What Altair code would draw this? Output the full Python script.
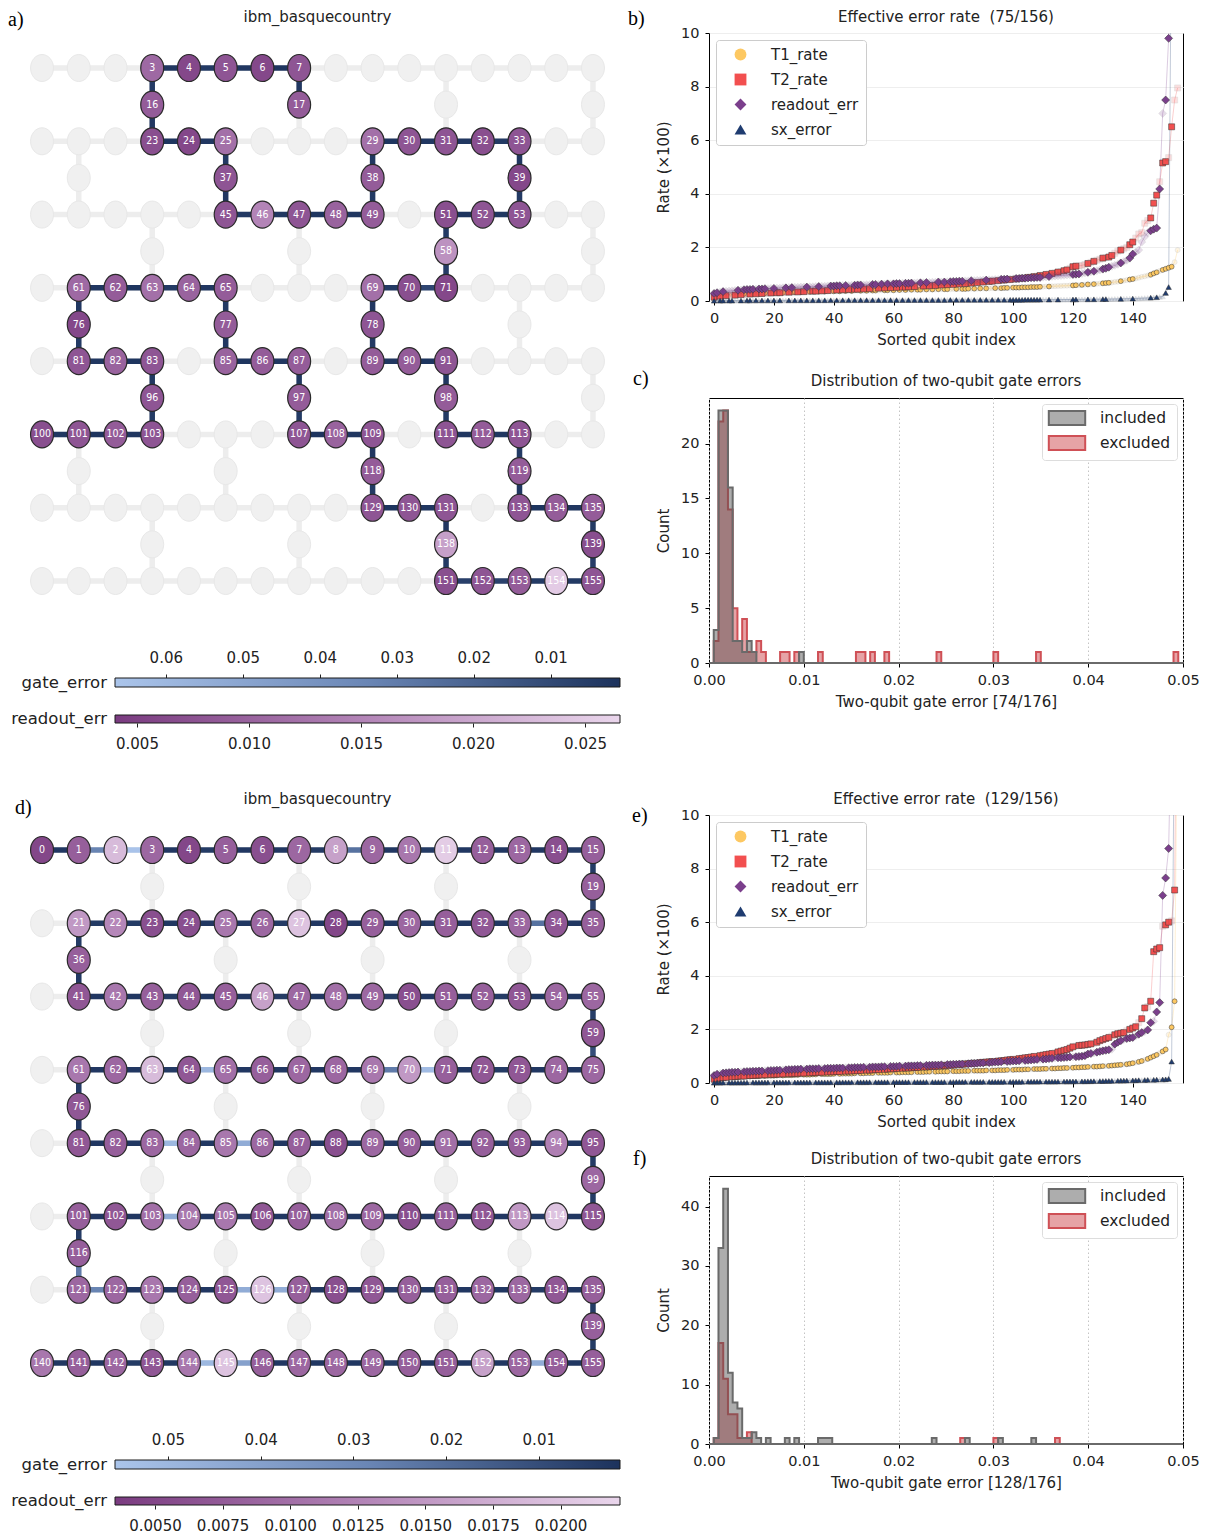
import altair as alt
import pandas as pd

FONT = "DejaVu Sans"
NODE_FONT = "DejaVu Sans Condensed"
SERIF = "Liberation Serif"
INK = "#222222"

# ---------------- device topology (heavy-hex, 156 qubits) ----------------
N_MAIN_ROWS = 8
ROW_LEN = 16
CONNECTOR_COLS = [[3, 7, 11, 15], [1, 5, 9, 13]]

pos = {}
edges = []
for k in range(N_MAIN_ROWS):
    base = 20 * k
    for c in range(ROW_LEN):
        pos[base + c] = (c, 2 * k)
        if c < ROW_LEN - 1:
            edges.append((base + c, base + c + 1))
    if k < N_MAIN_ROWS - 1:
        for j, c in enumerate(CONNECTOR_COLS[k % 2]):
            q = base + 16 + j
            pos[q] = (c, 2 * k + 1)
            edges.append((base + c, q))
            edges.append((q, base + 20 + c))

# ---------------- panel a: selected chain ----------------
PATH_A = [17, 7, 6, 5, 4, 3, 16, 23, 24, 25, 37, 45, 46, 47, 48, 49, 38, 29, 30, 31, 32, 33,
          39, 53, 52, 51, 58, 71, 70, 69, 78, 89, 90, 91, 98, 111, 112, 113, 119, 133, 134, 135,
          139, 155, 154, 153, 152, 151, 138, 131, 130, 129, 118, 109, 108, 107, 97, 87, 86, 85,
          77, 65, 64, 63, 62, 61, 76, 81, 82, 83, 96, 103, 102, 101, 100]
READ_A = {3: 0.011, 4: 0.006, 5: 0.008, 6: 0.006, 7: 0.008, 16: 0.009, 17: 0.009, 23: 0.007,
          24: 0.006, 25: 0.012, 29: 0.012, 30: 0.008, 31: 0.008, 32: 0.007, 33: 0.008, 37: 0.008,
          38: 0.009, 39: 0.006, 45: 0.008, 46: 0.015, 47: 0.008, 48: 0.010, 49: 0.009, 51: 0.007,
          52: 0.008, 53: 0.008, 58: 0.017, 61: 0.011, 62: 0.009, 63: 0.012, 64: 0.010, 65: 0.009,
          69: 0.012, 70: 0.007, 71: 0.006, 76: 0.006, 77: 0.009, 78: 0.008, 81: 0.008, 82: 0.010,
          83: 0.008, 85: 0.010, 86: 0.009, 87: 0.009, 89: 0.009, 90: 0.009, 91: 0.008, 96: 0.008,
          97: 0.009, 98: 0.009, 100: 0.007, 101: 0.008, 102: 0.009, 103: 0.008, 107: 0.008,
          108: 0.010, 109: 0.008, 111: 0.008, 112: 0.009, 113: 0.008, 118: 0.009, 119: 0.009,
          129: 0.008, 130: 0.008, 131: 0.008, 133: 0.008, 134: 0.009, 135: 0.009, 138: 0.019,
          139: 0.007, 151: 0.007, 152: 0.008, 153: 0.009, 154: 0.025, 155: 0.008}
GATE_A = [0.003, 0.002, 0.003, 0.004, 0.003, 0.004, 0.003, 0.002, 0.003, 0.004,
          0.003, 0.004, 0.003, 0.002, 0.003, 0.004, 0.003, 0.002, 0.003, 0.003,
          0.004, 0.003, 0.004, 0.003, 0.002, 0.004, 0.005, 0.009, 0.004, 0.003,
          0.004, 0.003, 0.002, 0.003, 0.004, 0.003, 0.003, 0.004, 0.003, 0.002,
          0.003, 0.004, 0.005, 0.004, 0.004, 0.007, 0.006, 0.004, 0.003, 0.003,
          0.002, 0.004, 0.003, 0.003, 0.002, 0.004, 0.003, 0.003, 0.002, 0.003,
          0.004, 0.003, 0.004, 0.002, 0.003, 0.003, 0.004, 0.003, 0.002, 0.003,
          0.004, 0.003, 0.002, 0.003]
READ_DOM_A = [0.00402, 0.02656]
GATE_DOM_A = [0.0010, 0.0666]
GATE_TICKS_A = [0.06, 0.05, 0.04, 0.03, 0.02, 0.01]
READ_TICKS_A = [0.005, 0.010, 0.015, 0.020, 0.025]

# ---------------- panel d: snake chain ----------------
PATH_D = (list(range(0, 16)) + [19] + list(range(35, 20, -1)) + [36] + list(range(41, 56)) + [59]
          + list(range(75, 60, -1)) + [76] + list(range(81, 96)) + [99] + list(range(115, 100, -1))
          + [116] + list(range(121, 136)) + [139] + list(range(155, 139, -1)))
READ_D = {0: 0.005, 1: 0.008, 2: 0.019, 3: 0.009, 4: 0.005, 5: 0.008, 6: 0.006, 7: 0.009, 8: 0.016,
          9: 0.009, 10: 0.011, 11: 0.021, 12: 0.008, 13: 0.009, 14: 0.006, 15: 0.008, 19: 0.008,
          21: 0.015, 22: 0.013, 23: 0.006, 24: 0.006, 25: 0.011, 26: 0.009, 27: 0.020, 28: 0.005,
          29: 0.008, 30: 0.009, 31: 0.008, 32: 0.007, 33: 0.009, 34: 0.007, 35: 0.008, 36: 0.008,
          41: 0.007, 42: 0.011, 43: 0.008, 44: 0.007, 45: 0.008, 46: 0.016, 47: 0.009, 48: 0.010,
          49: 0.009, 50: 0.006, 51: 0.008, 52: 0.008, 53: 0.007, 54: 0.009, 55: 0.009, 59: 0.007,
          61: 0.011, 62: 0.009, 63: 0.019, 64: 0.007, 65: 0.010, 66: 0.008, 67: 0.009, 68: 0.009,
          69: 0.011, 70: 0.015, 71: 0.008, 72: 0.007, 73: 0.007, 74: 0.009, 75: 0.009, 76: 0.007,
          81: 0.007, 82: 0.008, 83: 0.009, 84: 0.009, 85: 0.011, 86: 0.009, 87: 0.008, 88: 0.006,
          89: 0.009, 90: 0.008, 91: 0.010, 92: 0.008, 93: 0.008, 94: 0.012, 95: 0.007, 99: 0.009,
          101: 0.008, 102: 0.007, 103: 0.010, 104: 0.011, 105: 0.011, 106: 0.007, 107: 0.008,
          108: 0.010, 109: 0.009, 110: 0.006, 111: 0.008, 112: 0.007, 113: 0.015, 114: 0.020,
          115: 0.007, 116: 0.008, 121: 0.009, 122: 0.009, 123: 0.011, 124: 0.008, 125: 0.007,
          126: 0.020, 127: 0.008, 128: 0.006, 129: 0.007, 130: 0.008, 131: 0.008, 132: 0.009,
          133: 0.009, 134: 0.007, 135: 0.008, 139: 0.008, 140: 0.011, 141: 0.008, 142: 0.009,
          143: 0.007, 144: 0.011, 145: 0.020, 146: 0.008, 147: 0.009, 148: 0.009, 149: 0.009,
          150: 0.008, 151: 0.008, 152: 0.016, 153: 0.009, 154: 0.008, 155: 0.008}
GATE_D = [0.003, 0.028, 0.055, 0.003, 0.004, 0.003, 0.003, 0.004, 0.022, 0.003, 0.004, 0.003, 0.003, 0.003, 0.004,
          0.004, 0.006,
          0.003, 0.022, 0.003, 0.003, 0.004, 0.003, 0.003, 0.003, 0.004, 0.003, 0.003, 0.003, 0.004, 0.004,
          0.004, 0.003,
          0.003, 0.003, 0.004, 0.003, 0.003, 0.004, 0.003, 0.003, 0.004, 0.003, 0.003, 0.004, 0.003, 0.003,
          0.005, 0.010,
          0.003, 0.003, 0.004, 0.003, 0.052, 0.025, 0.003, 0.003, 0.003, 0.003, 0.050, 0.004, 0.003, 0.003,
          0.004, 0.003,
          0.003, 0.003, 0.050, 0.003, 0.045, 0.003, 0.003, 0.004, 0.003, 0.003, 0.003, 0.004, 0.003, 0.003,
          0.004, 0.004,
          0.003, 0.004, 0.003, 0.003, 0.003, 0.004, 0.003, 0.003, 0.003, 0.004, 0.003, 0.045, 0.003, 0.003,
          0.004, 0.025,
          0.028, 0.003, 0.003, 0.003, 0.045, 0.045, 0.003, 0.003, 0.004, 0.003, 0.003, 0.003, 0.004, 0.003,
          0.004, 0.004,
          0.003, 0.045, 0.003, 0.003, 0.003, 0.004, 0.003, 0.003, 0.003, 0.040, 0.050, 0.003, 0.004, 0.003, 0.003]
READ_DOM_D = [0.00352, 0.0222]
GATE_DOM_D = [0.00124, 0.0557]
GATE_TICKS_D = [0.05, 0.04, 0.03, 0.02, 0.01]
READ_TICKS_D = [0.0050, 0.0075, 0.0100, 0.0125, 0.0150, 0.0175, 0.0200]

# ---------------- panel b: sorted rates (x100) ----------------
B_T1 = [0.18, 0.20, 0.21, 0.22, 0.23, 0.24, 0.24, 0.25, 0.25, 0.26,
        0.26, 0.27, 0.27, 0.28, 0.28, 0.28, 0.29, 0.29, 0.30, 0.30,
        0.30, 0.31, 0.31, 0.31, 0.32, 0.32, 0.32, 0.33, 0.33, 0.33,
        0.33, 0.34, 0.34, 0.34, 0.34, 0.35, 0.35, 0.35, 0.35, 0.36,
        0.36, 0.36, 0.36, 0.37, 0.37, 0.37, 0.37, 0.38, 0.38, 0.38,
        0.38, 0.38, 0.39, 0.39, 0.39, 0.39, 0.40, 0.40, 0.40, 0.40,
        0.40, 0.41, 0.41, 0.41, 0.41, 0.42, 0.42, 0.42, 0.42, 0.42,
        0.43, 0.43, 0.43, 0.43, 0.43, 0.44, 0.44, 0.44, 0.44, 0.44,
        0.45, 0.45, 0.45, 0.45, 0.45, 0.46, 0.46, 0.46, 0.46, 0.47,
        0.47, 0.47, 0.47, 0.48, 0.48, 0.48, 0.48, 0.49, 0.49, 0.49,
        0.50, 0.50, 0.50, 0.51, 0.51, 0.51, 0.52, 0.52, 0.52, 0.53,
        0.53, 0.54, 0.54, 0.55, 0.55, 0.56, 0.56, 0.57, 0.57, 0.58,
        0.58, 0.59, 0.59, 0.60, 0.61, 0.62, 0.62, 0.63, 0.64, 0.65,
        0.66, 0.67, 0.68, 0.69, 0.71, 0.72, 0.74, 0.76, 0.78, 0.80,
        0.82, 0.84, 0.87, 0.90, 0.92, 0.95, 0.98, 1.03, 1.07, 1.12,
        1.16, 1.20, 1.24, 1.28, 1.45, 1.90]
B_T2 = [0.14, 0.16, 0.18, 0.19, 0.20, 0.21, 0.22, 0.22, 0.23, 0.24,
        0.24, 0.25, 0.26, 0.26, 0.27, 0.27, 0.28, 0.29, 0.29, 0.30,
        0.30, 0.31, 0.31, 0.32, 0.32, 0.33, 0.33, 0.34, 0.34, 0.35,
        0.35, 0.36, 0.36, 0.37, 0.37, 0.38, 0.38, 0.39, 0.39, 0.40,
        0.40, 0.41, 0.41, 0.42, 0.42, 0.43, 0.43, 0.44, 0.44, 0.45,
        0.45, 0.46, 0.46, 0.47, 0.47, 0.48, 0.48, 0.49, 0.49, 0.50,
        0.50, 0.51, 0.51, 0.52, 0.52, 0.53, 0.53, 0.54, 0.55, 0.55,
        0.56, 0.56, 0.57, 0.58, 0.58, 0.59, 0.60, 0.60, 0.61, 0.62,
        0.62, 0.63, 0.64, 0.64, 0.65, 0.66, 0.67, 0.68, 0.69, 0.70,
        0.71, 0.72, 0.73, 0.74, 0.75, 0.76, 0.77, 0.78, 0.79, 0.80,
        0.81, 0.82, 0.84, 0.85, 0.86, 0.88, 0.89, 0.91, 0.93, 0.95,
        0.97, 0.99, 1.01, 1.03, 1.05, 1.08, 1.10, 1.13, 1.16, 1.22,
        1.28, 1.30, 1.31, 1.33, 1.36, 1.40, 1.44, 1.48, 1.52, 1.56,
        1.60, 1.62, 1.64, 1.70, 1.78, 1.86, 1.90, 1.95, 2.00, 2.10,
        2.20, 2.35, 2.50, 2.55, 2.90, 3.00, 3.10, 3.65, 3.95, 4.45,
        5.15, 5.20, 5.35, 6.50, 7.50, 7.95]
B_RO = [0.28, 0.31, 0.33, 0.35, 0.36, 0.37, 0.38, 0.39, 0.40, 0.41,
        0.42, 0.43, 0.43, 0.44, 0.44, 0.45, 0.45, 0.46, 0.46, 0.47,
        0.47, 0.48, 0.48, 0.49, 0.49, 0.50, 0.50, 0.51, 0.51, 0.52,
        0.52, 0.52, 0.53, 0.53, 0.54, 0.54, 0.55, 0.55, 0.56, 0.56,
        0.56, 0.57, 0.57, 0.58, 0.58, 0.58, 0.59, 0.59, 0.60, 0.60,
        0.60, 0.61, 0.61, 0.62, 0.62, 0.62, 0.63, 0.63, 0.64, 0.64,
        0.64, 0.65, 0.65, 0.66, 0.66, 0.66, 0.67, 0.67, 0.68, 0.68,
        0.68, 0.69, 0.69, 0.70, 0.70, 0.71, 0.71, 0.71, 0.72, 0.72,
        0.73, 0.73, 0.74, 0.74, 0.75, 0.75, 0.76, 0.76, 0.77, 0.77,
        0.78, 0.78, 0.79, 0.79, 0.80, 0.80, 0.81, 0.81, 0.82, 0.82,
        0.83, 0.84, 0.84, 0.85, 0.85, 0.86, 0.87, 0.87, 0.88, 0.88,
        0.89, 0.90, 0.91, 0.92, 0.93, 0.94, 0.95, 0.96, 0.97, 0.98,
        0.99, 1.00, 1.01, 1.03, 1.05, 1.07, 1.09, 1.11, 1.13, 1.16,
        1.19, 1.22, 1.26, 1.30, 1.33, 1.37, 1.42, 1.47, 1.52, 1.60,
        1.75, 1.82, 1.90, 2.20, 2.40, 2.55, 2.62, 2.68, 2.72, 4.18,
        7.00, 7.50, 9.80, 14.0, 20.0, 30.0]
B_SX = [0.010, 0.012, 0.013, 0.014, 0.015, 0.016, 0.016, 0.017, 0.017, 0.018,
        0.018, 0.019, 0.019, 0.020, 0.020, 0.020, 0.021, 0.021, 0.021, 0.022,
        0.022, 0.022, 0.023, 0.023, 0.023, 0.024, 0.024, 0.024, 0.025, 0.025,
        0.025, 0.025, 0.026, 0.026, 0.026, 0.027, 0.027, 0.027, 0.027, 0.028,
        0.028, 0.028, 0.028, 0.029, 0.029, 0.029, 0.029, 0.030, 0.030, 0.030,
        0.030, 0.031, 0.031, 0.031, 0.031, 0.032, 0.032, 0.032, 0.032, 0.033,
        0.033, 0.033, 0.033, 0.034, 0.034, 0.034, 0.034, 0.035, 0.035, 0.035,
        0.035, 0.036, 0.036, 0.036, 0.036, 0.037, 0.037, 0.037, 0.038, 0.038,
        0.038, 0.038, 0.039, 0.039, 0.039, 0.040, 0.040, 0.040, 0.041, 0.041,
        0.041, 0.042, 0.042, 0.042, 0.043, 0.043, 0.043, 0.044, 0.044, 0.045,
        0.045, 0.045, 0.046, 0.046, 0.047, 0.047, 0.048, 0.048, 0.049, 0.049,
        0.050, 0.050, 0.051, 0.052, 0.052, 0.053, 0.054, 0.054, 0.055, 0.056,
        0.057, 0.058, 0.059, 0.060, 0.061, 0.062, 0.063, 0.064, 0.066, 0.067,
        0.069, 0.070, 0.072, 0.074, 0.076, 0.078, 0.080, 0.083, 0.086, 0.089,
        0.092, 0.096, 0.100, 0.105, 0.110, 0.116, 0.123, 0.131, 0.140, 0.152,
        0.170, 0.300, 0.520, 15.0, 25.0, 40.0]
B_INC_T1 = [3, 8, 10, 13, 15, 17, 20, 23, 26, 27, 29, 32, 35, 37, 40, 42, 44, 46, 49, 51, 53, 54,
            57, 58, 60, 62, 64, 66, 68, 69, 71, 73, 75, 77, 78, 81, 83, 84, 85, 87, 89, 91, 94, 96,
            97, 98, 100, 101, 102, 103, 104, 105, 106, 107, 108, 109, 112, 120, 121, 123, 125, 127,
            130, 131, 132, 136, 139, 140, 146, 147, 148, 150, 151, 152, 153]
B_INC_T2 = [0, 2, 4, 7, 9, 12, 14, 16, 19, 21, 22, 25, 28, 30, 33, 34, 36, 38, 41, 43, 45, 47, 48,
            50, 52, 55, 57, 59, 61, 63, 64, 65, 67, 70, 72, 74, 76, 78, 80, 82, 84, 86, 88, 90, 92,
            93, 95, 97, 99, 101, 103, 105, 107, 109, 111, 113, 115, 117, 118, 120, 121, 125, 127,
            130, 132, 133, 136, 139, 140, 146, 147, 148, 150, 151, 153]
B_INC_RO = [0, 1, 3, 8, 10, 11, 12, 13, 15, 16, 17, 20, 24, 26, 31, 35, 39, 40, 41, 42, 44, 47, 48,
            49, 53, 54, 56, 58, 60, 61, 62, 64, 65, 66, 69, 71, 75, 77, 79, 80, 81, 82, 83, 86, 91,
            96, 97, 98, 101, 102, 103, 104, 105, 106, 107, 108, 109, 112, 120, 121, 122, 125, 127,
            130, 131, 132, 136, 139, 140, 146, 147, 148, 149, 151, 152]
B_INC_SX = [0, 2, 3, 5, 6, 9, 11, 12, 14, 16, 18, 20, 22, 25, 27, 29, 31, 33, 35, 37, 39, 41, 43,
            45, 47, 49, 51, 53, 55, 57, 59, 61, 63, 65, 67, 69, 71, 73, 75, 77, 79, 81, 83, 85, 87,
            89, 91, 93, 95, 97, 99, 100, 101, 102, 103, 104, 105, 106, 107, 108, 109, 112, 115,
            120, 121, 125, 127, 130, 131, 136, 140, 146, 148, 151, 152]

# ---------------- panel e: sorted rates (x100) ----------------
E_T1 = [0.14, 0.16, 0.18, 0.19, 0.20, 0.21, 0.21, 0.22, 0.22, 0.23,
        0.23, 0.24, 0.24, 0.25, 0.25, 0.25, 0.26, 0.26, 0.27, 0.27,
        0.27, 0.28, 0.28, 0.28, 0.29, 0.29, 0.29, 0.30, 0.30, 0.30,
        0.31, 0.31, 0.31, 0.32, 0.32, 0.32, 0.33, 0.33, 0.33, 0.33,
        0.34, 0.34, 0.34, 0.35, 0.35, 0.35, 0.35, 0.36, 0.36, 0.36,
        0.36, 0.37, 0.37, 0.37, 0.37, 0.38, 0.38, 0.38, 0.38, 0.39,
        0.39, 0.39, 0.39, 0.40, 0.40, 0.40, 0.40, 0.41, 0.41, 0.41,
        0.41, 0.42, 0.42, 0.42, 0.42, 0.43, 0.43, 0.43, 0.43, 0.44,
        0.44, 0.44, 0.44, 0.45, 0.45, 0.45, 0.45, 0.46, 0.46, 0.46,
        0.46, 0.47, 0.47, 0.47, 0.47, 0.48, 0.48, 0.48, 0.49, 0.49,
        0.49, 0.50, 0.50, 0.50, 0.51, 0.51, 0.51, 0.52, 0.52, 0.52,
        0.53, 0.53, 0.54, 0.54, 0.54, 0.55, 0.55, 0.56, 0.56, 0.57,
        0.57, 0.58, 0.58, 0.59, 0.59, 0.60, 0.60, 0.61, 0.61, 0.62,
        0.63, 0.63, 0.64, 0.65, 0.66, 0.67, 0.68, 0.69, 0.70, 0.72,
        0.74, 0.76, 0.79, 0.82, 0.86, 0.90, 0.95, 1.00, 1.05, 1.12,
        1.18, 1.25, 1.80, 2.08, 3.05, 15.0]
E_T2 = [0.14, 0.16, 0.18, 0.20, 0.21, 0.22, 0.23, 0.24, 0.25, 0.26,
        0.26, 0.27, 0.28, 0.28, 0.29, 0.30, 0.30, 0.31, 0.31, 0.32,
        0.32, 0.33, 0.33, 0.34, 0.34, 0.35, 0.35, 0.36, 0.36, 0.37,
        0.37, 0.38, 0.38, 0.39, 0.39, 0.40, 0.40, 0.41, 0.41, 0.42,
        0.42, 0.43, 0.43, 0.44, 0.44, 0.45, 0.45, 0.46, 0.46, 0.47,
        0.47, 0.48, 0.48, 0.49, 0.50, 0.50, 0.51, 0.51, 0.52, 0.53,
        0.53, 0.54, 0.54, 0.55, 0.56, 0.56, 0.57, 0.58, 0.58, 0.59,
        0.60, 0.60, 0.61, 0.62, 0.62, 0.63, 0.64, 0.65, 0.66, 0.66,
        0.67, 0.68, 0.69, 0.70, 0.71, 0.72, 0.73, 0.74, 0.75, 0.76,
        0.77, 0.78, 0.79, 0.80, 0.81, 0.82, 0.83, 0.84, 0.86, 0.87,
        0.88, 0.89, 0.91, 0.92, 0.94, 0.95, 0.97, 0.99, 1.00, 1.02,
        1.04, 1.06, 1.08, 1.10, 1.13, 1.16, 1.19, 1.22, 1.25, 1.30,
        1.35, 1.38, 1.40, 1.41, 1.42, 1.44, 1.46, 1.48, 1.52, 1.58,
        1.62, 1.66, 1.70, 1.75, 1.80, 1.84, 1.86, 1.88, 1.95, 2.00,
        2.05, 2.10, 2.25, 2.40, 2.80, 2.85, 3.05, 4.90, 5.00, 5.05,
        5.85, 5.90, 6.00, 6.05, 7.20, 20.0]
E_RO = [0.28, 0.33, 0.35, 0.37, 0.38, 0.39, 0.40, 0.40, 0.41, 0.42,
        0.42, 0.43, 0.43, 0.44, 0.44, 0.45, 0.45, 0.46, 0.46, 0.47,
        0.47, 0.48, 0.48, 0.49, 0.49, 0.50, 0.50, 0.51, 0.51, 0.52,
        0.52, 0.52, 0.53, 0.53, 0.53, 0.54, 0.54, 0.54, 0.55, 0.55,
        0.55, 0.56, 0.56, 0.56, 0.57, 0.57, 0.57, 0.58, 0.58, 0.58,
        0.59, 0.59, 0.59, 0.60, 0.60, 0.60, 0.61, 0.61, 0.61, 0.62,
        0.62, 0.62, 0.63, 0.63, 0.63, 0.64, 0.64, 0.64, 0.65, 0.65,
        0.65, 0.66, 0.66, 0.67, 0.67, 0.67, 0.68, 0.68, 0.69, 0.69,
        0.70, 0.70, 0.71, 0.71, 0.72, 0.72, 0.73, 0.73, 0.74, 0.75,
        0.75, 0.76, 0.76, 0.77, 0.78, 0.78, 0.79, 0.80, 0.80, 0.81,
        0.82, 0.82, 0.83, 0.84, 0.84, 0.85, 0.86, 0.87, 0.88, 0.88,
        0.89, 0.90, 0.91, 0.92, 0.93, 0.94, 0.94, 0.95, 0.96, 0.97,
        0.97, 0.98, 0.99, 1.00, 1.02, 1.08, 1.10, 1.12, 1.15, 1.18,
        1.20, 1.22, 1.24, 1.26, 1.45, 1.52, 1.58, 1.62, 1.66, 1.68,
        1.70, 1.75, 1.82, 1.88, 1.92, 1.98, 2.25, 2.30, 2.65, 3.00,
        7.00, 7.65, 8.75, 14.0, 20.0, 30.0]
E_SX = [0.010, 0.011, 0.012, 0.013, 0.014, 0.015, 0.015, 0.016, 0.016, 0.017,
        0.017, 0.018, 0.018, 0.019, 0.019, 0.019, 0.020, 0.020, 0.020, 0.021,
        0.021, 0.021, 0.022, 0.022, 0.022, 0.023, 0.023, 0.023, 0.024, 0.024,
        0.024, 0.024, 0.025, 0.025, 0.025, 0.026, 0.026, 0.026, 0.026, 0.027,
        0.027, 0.027, 0.027, 0.028, 0.028, 0.028, 0.028, 0.029, 0.029, 0.029,
        0.029, 0.030, 0.030, 0.030, 0.030, 0.031, 0.031, 0.031, 0.031, 0.032,
        0.032, 0.032, 0.032, 0.033, 0.033, 0.033, 0.033, 0.034, 0.034, 0.034,
        0.034, 0.035, 0.035, 0.035, 0.036, 0.036, 0.036, 0.036, 0.037, 0.037,
        0.037, 0.038, 0.038, 0.038, 0.039, 0.039, 0.039, 0.040, 0.040, 0.040,
        0.041, 0.041, 0.041, 0.042, 0.042, 0.043, 0.043, 0.043, 0.044, 0.044,
        0.045, 0.045, 0.046, 0.046, 0.047, 0.047, 0.048, 0.048, 0.049, 0.050,
        0.050, 0.051, 0.052, 0.052, 0.053, 0.054, 0.055, 0.056, 0.057, 0.058,
        0.059, 0.060, 0.061, 0.062, 0.063, 0.065, 0.066, 0.068, 0.069, 0.071,
        0.073, 0.075, 0.077, 0.079, 0.082, 0.084, 0.087, 0.090, 0.093, 0.096,
        0.099, 0.102, 0.105, 0.108, 0.111, 0.114, 0.117, 0.120, 0.124, 0.128,
        0.132, 0.136, 0.150, 0.800, 15.0, 30.0]
E_EXC_T1 = [3, 9, 16, 22, 29, 35, 41, 48, 54, 60, 67, 73, 79, 86, 92, 99, 106, 112, 119, 126, 131,
            137, 141, 144, 149, 152, 155]
E_EXC_T2 = [5, 11, 18, 24, 31, 37, 43, 50, 56, 62, 69, 75, 81, 88, 94, 101, 108, 114, 121, 127, 133,
            138, 142, 145, 150, 153, 155]
E_EXC_RO = [2, 9, 17, 23, 30, 36, 44, 51, 58, 63, 70, 77, 84, 91, 97, 103, 109, 114, 120, 127, 133,
            137, 141, 144, 147, 154, 155]
E_EXC_SX = [4, 12, 19, 26, 33, 40, 47, 53, 59, 66, 72, 78, 85, 91, 98, 104, 110, 116, 122, 128, 134,
            139, 143, 146, 149, 154, 155]

# ---------------- histograms: counts per 0.0005-wide bin (bin index -> count) ----------------
BIN_W = 0.0005
N_BINS = 100
C_INC = {1: 3, 2: 23, 3: 23, 4: 16, 5: 2, 6: 2, 7: 1, 8: 2, 9: 1, 19: 1}
C_EXC = {1: 2, 2: 22, 3: 23, 4: 14, 5: 5, 6: 2, 7: 4, 8: 1, 9: 1, 10: 2, 11: 1, 15: 1, 16: 1,
         18: 1, 23: 1, 31: 1, 32: 1, 34: 1, 37: 1, 48: 1, 60: 1, 69: 1, 98: 1}
F_INC = {1: 1, 2: 33, 3: 43, 4: 12, 5: 7, 6: 6, 7: 1, 8: 1, 9: 2, 10: 1, 12: 1, 16: 1, 18: 1,
         23: 1, 24: 1, 25: 1, 47: 1, 54: 1, 61: 1, 68: 1}
F_EXC = {1: 1, 2: 17, 3: 11, 4: 5, 5: 5, 6: 1, 7: 1, 8: 2, 53: 1, 60: 1, 73: 1}

# ---------------- styling ----------------
GATE_COLORS = ["#1c325c", "#6a86b5", "#abc5eb"]      # low error -> high error
READ_COLORS = ["#7a3b80", "#b486b8", "#ead6ec"]      # low error -> high error
SERIES = ["T1_rate", "T2_rate", "readout_err", "sx_error"]
SER_COLORS = ["#fdc862", "#f24f4f", "#7b3f8c", "#1f3c70"]
SER_SHAPES = ["circle", "square", "diamond", "triangle-up"]
SER_SIZES = [24, 36, 64, 30]
ELLIPSE = "M-0.85,0A0.85,1 0 1,0 0.85,0A0.85,1 0 1,0 -0.85,0Z"
RECT = "M-2.6,-1H2.6V1H-2.6Z"
ONE = pd.DataFrame({"k": [0]})

AX = dict(tickColor="black", tickSize=4, labelFontSize=14.5, labelFont=FONT, labelColor=INK,
          titleFontSize=15, titleFont=FONT, titleColor=INK, titleFontWeight="normal",
          domain=False, labelPadding=6, labelFlush=False)
FRAME = alt.ViewBackground(stroke="black", strokeWidth=1)
INDEP = dict(color="independent", fill="independent", stroke="independent",
             shape="independent", opacity="independent", size="independent")


def text_layer(txt, x, y, size, font=FONT, align="center", color=INK):
    return alt.Chart(ONE).mark_text(text=txt, fontSize=size, font=font, align=align,
                                    baseline="middle", color=color).encode(
        x=alt.value(x), y=alt.value(y))


def spacer(h):
    return alt.Chart(ONE).mark_rule(opacity=0).encode(
        x=alt.value(0), y=alt.value(0)).properties(width=10, height=h)


def mid3(d):
    return [d[0], (d[0] + d[1]) / 2, d[1]]


def graph_panel(path, readout, gates, rdom, gdom, title, tag):
    sx = alt.Scale(domain=[-0.6, 15.6], nice=False, zero=False)
    sy = alt.Scale(domain=[-0.955, 14.6], nice=False, zero=False, reverse=True)
    qs = list(pos)
    nodes = pd.DataFrame({"q": qs, "c": [pos[q][0] for q in qs], "r": [pos[q][1] for q in qs]})
    alle = pd.DataFrame({"c1": [pos[a][0] for a, b in edges], "r1": [pos[a][1] for a, b in edges],
                         "c2": [pos[b][0] for a, b in edges], "r2": [pos[b][1] for a, b in edges]})
    pairs = list(zip(path[:-1], path[1:]))
    g = [gates[i] if i < len(gates) else gates[-1] for i in range(len(pairs))]
    sele = pd.DataFrame({"c1": [pos[a][0] for a, b in pairs], "r1": [pos[a][1] for a, b in pairs],
                         "c2": [pos[b][0] for a, b in pairs], "r2": [pos[b][1] for a, b in pairs],
                         "g": g})
    seln = pd.DataFrame({"q": path, "c": [pos[q][0] for q in path], "r": [pos[q][1] for q in path],
                         "ro": [readout.get(q, 0.008) for q in path]})
    X = alt.X("c:Q", scale=sx, axis=None)
    Y = alt.Y("r:Q", scale=sy, axis=None)
    X1 = alt.X("c1:Q", scale=sx, axis=None)
    Y1 = alt.Y("r1:Q", scale=sy, axis=None)
    bg_e = alt.Chart(alle).mark_rule(strokeWidth=5.5, color="#ededed").encode(
        x=X1, y=Y1, x2="c2:Q", y2="r2:Q")
    bg_n = alt.Chart(nodes).mark_point(shape=ELLIPSE, size=729, filled=True, fill="#f0f0f0",
                                       stroke="#e8e8e8", strokeWidth=1, opacity=1).encode(x=X, y=Y)
    fg_e = alt.Chart(sele).mark_rule(strokeWidth=5.5).encode(
        x=X1, y=Y1, x2="c2:Q", y2="r2:Q",
        color=alt.Color("g:Q", scale=alt.Scale(domain=mid3(gdom), range=GATE_COLORS,
                                               interpolate="rgb", clamp=True), legend=None))
    fg_n = alt.Chart(seln).mark_point(shape=ELLIPSE, size=729, filled=True, stroke="#2a2a2a",
                                      strokeWidth=1.2, opacity=1).encode(
        x=X, y=Y,
        fill=alt.Fill("ro:Q", scale=alt.Scale(domain=mid3(rdom), range=READ_COLORS,
                                              interpolate="rgb", clamp=True), legend=None))
    lab = alt.Chart(seln).mark_text(font=NODE_FONT, fontSize=10.5, color="white",
                                    baseline="middle").encode(x=X, y=Y, text="q:N")
    ttl = text_layer(title, 297.5, -16.5, 15)
    tg = text_layer(tag[0], tag[1], tag[2], 20, font=SERIF, align="left", color="black")
    return alt.layer(bg_e, bg_n, fg_e, fg_n, lab, ttl, tg).properties(width=595, height=570)


def colorbar(dom, ticks, fmt, colors, reverse, orient, name, h):
    df = pd.DataFrame({"lo": [dom[0]], "hi": [dom[1]]})
    cols = list(reversed(colors)) if reverse else list(colors)
    grad = alt.LinearGradient(gradient="linear",
                              stops=[alt.GradientStop(color=c, offset=i / (len(cols) - 1))
                                     for i, c in enumerate(cols)],
                              x1=0, x2=1, y1=0, y2=0)
    bar = alt.Chart(df).mark_rect(fill=grad, stroke="#1a1a1a", strokeWidth=1).encode(
        x=alt.X("lo:Q", scale=alt.Scale(domain=dom, range=[95, 600], reverse=reverse,
                                        nice=False, zero=False),
                axis=alt.Axis(orient=orient, values=ticks, format=fmt, title=None, grid=False,
                              domain=False, tickColor=INK, tickSize=4, labelFontSize=15,
                              labelFont=FONT, labelColor=INK, labelPadding=9, labelFlush=False)),
        x2="hi:Q", y=alt.value(0), y2=alt.value(h))
    nm = text_layer(name, 87, h / 2, 16.5, align="right")
    return alt.layer(bar, nm).properties(width=600, height=h)


def scatter_panel(vals, inc_sets, title, tag):
    rows = []
    for s in SERIES:
        for i, v in enumerate(vals[s]):
            rows.append({"i": i, "v": v, "s": s, "inc": 1 if i in inc_sets[s] else 0})
    df = pd.DataFrame(rows)
    X = alt.X("i:Q", scale=alt.Scale(domain=[-1.7, 156.8], nice=False, zero=False),
              axis=alt.Axis(values=[0, 20, 40, 60, 80, 100, 120, 140], title="Sorted qubit index",
                            grid=False, titlePadding=8, **AX))
    Y = alt.Y("v:Q", scale=alt.Scale(domain=[0, 10], nice=False, zero=False),
              axis=alt.Axis(values=[0, 2, 4, 6, 8, 10], title="Rate (\u00d7100)", grid=True,
                            gridColor="#eeeeee", titlePadding=9, **AX))
    leg = alt.Legend(title=None, orient="top-left", offset=7, fillColor="white",
                     strokeColor="#cccccc", cornerRadius=3, padding=7, labelFontSize=15,
                     labelFont=FONT, labelColor=INK, symbolSize=140, symbolOffset=10,
                     labelOffset=23, rowPadding=9, symbolStrokeWidth=0, symbolOpacity=1)
    fill = alt.Fill("s:N", scale=alt.Scale(domain=SERIES, range=SER_COLORS), legend=leg)
    shape = alt.Shape("s:N", scale=alt.Scale(domain=SERIES, range=SER_SHAPES), legend=leg)
    layers = []
    for s, col in zip(SERIES, SER_COLORS):
        layers.append(alt.Chart(df).transform_filter(alt.datum.s == s).mark_line(
            color=col, strokeWidth=0.9, opacity=0.3, clip=True).encode(x=X, y=Y, order="i:Q"))
    for s, size in zip(SERIES, SER_SIZES):
        layers.append(alt.Chart(df).transform_filter(
            (alt.datum.s == s) & (alt.datum.v <= 10.3)).mark_point(
            filled=True, size=size, stroke="#333333", strokeWidth=0.5).encode(
            x=X, y=Y, fill=fill, shape=shape,
            opacity=alt.condition(alt.datum.inc == 1, alt.value(1.0), alt.value(0.18))))
    layers.append(text_layer(title, 237, -16, 15))
    layers.append(text_layer(tag[0], tag[1], tag[2], 20, font=SERIF, align="left", color="black"))
    return alt.layer(*layers).properties(width=474, height=268, view=FRAME)


def hist_panel(inc, exc, ymax, yticks, xtitle, h, tag):
    rows = []
    for grp, d in (("excluded", exc), ("included", inc)):
        for b in range(N_BINS + 1):
            rows.append({"x": round(b * BIN_W, 6), "n": d.get(b, 0), "g": grp})
    df = pd.DataFrame(rows)
    X = alt.X("x:Q", scale=alt.Scale(domain=[0, 0.05], nice=False, zero=False),
              axis=alt.Axis(values=[0, 0.01, 0.02, 0.03, 0.04, 0.05], format=".2f", title=xtitle,
                            grid=True, gridDash=[1.5, 2.5], gridColor="#c4c4c4", titlePadding=8,
                            **AX))
    Y = alt.Y("n:Q", scale=alt.Scale(domain=[0, ymax], nice=False, zero=False),
              axis=alt.Axis(values=yticks, title="Count", grid=False, titlePadding=9, **AX))
    leg = alt.Legend(title=None, orient="top-right", offset=6, fillColor="white",
                     strokeColor="#dddddd", cornerRadius=3, padding=6, symbolType=RECT,
                     symbolSize=196, symbolStrokeWidth=2, symbolOffset=11, labelFontSize=15.5,
                     labelFont=FONT, labelColor=INK, labelOffset=25, rowPadding=3)
    fill = alt.Fill("g:N", scale=alt.Scale(domain=["included", "excluded"],
                                           range=["rgba(80,80,80,0.47)", "rgba(205,71,77,0.5)"]),
                    legend=leg)
    stroke = alt.Stroke("g:N", scale=alt.Scale(domain=["included", "excluded"],
                                               range=["#6a6a6a", "#cf5056"]), legend=leg)
    layers = []
    for grp in ("excluded", "included"):
        layers.append(alt.Chart(df).transform_filter(alt.datum.g == grp).mark_area(
            interpolate="step-after", strokeWidth=2, strokeJoin="miter").encode(
            x=X, y=Y, fill=fill, stroke=stroke))
    layers.append(text_layer("Distribution of two-qubit gate errors", 237, -17, 15))
    layers.append(text_layer(tag[0], tag[1], tag[2], 20, font=SERIF, align="left", color="black"))
    return alt.layer(*layers).properties(width=474, height=h, view=FRAME)


vals_b = {"T1_rate": B_T1, "T2_rate": B_T2, "readout_err": B_RO, "sx_error": B_SX}
inc_b = {"T1_rate": set(B_INC_T1), "T2_rate": set(B_INC_T2), "readout_err": set(B_INC_RO),
         "sx_error": set(B_INC_SX)}
vals_e = {"T1_rate": E_T1, "T2_rate": E_T2, "readout_err": E_RO, "sx_error": E_SX}
inc_e = {"T1_rate": set(range(156)) - set(E_EXC_T1), "T2_rate": set(range(156)) - set(E_EXC_T2),
         "readout_err": set(range(156)) - set(E_EXC_RO), "sx_error": set(range(156)) - set(E_EXC_SX)}

graph_a = graph_panel(PATH_A, READ_A, GATE_A, READ_DOM_A, GATE_DOM_A, "ibm_basquecountry", ("a)", -12, -13))
gate_a = colorbar(GATE_DOM_A, GATE_TICKS_A, ".2f", GATE_COLORS, True, "top", "gate_error", 9)
read_a = colorbar(READ_DOM_A, READ_TICKS_A, ".3f", READ_COLORS, False, "bottom", "readout_err", 8)
scat_b = scatter_panel(vals_b, inc_b, "Effective error rate\u00a0 (75/156)", ("b)", -81, -14))
hist_c = hist_panel(C_INC, C_EXC, 24.15, [0, 5, 10, 15, 20], "Two-qubit gate error [74/176]", 265, ("c)", -76, -19))

graph_d = graph_panel(PATH_D, READ_D, GATE_D, READ_DOM_D, GATE_DOM_D, "ibm_basquecountry", ("d)", -5, -7))
gate_d = colorbar(GATE_DOM_D, GATE_TICKS_D, ".2f", GATE_COLORS, True, "top", "gate_error", 9)
read_d = colorbar(READ_DOM_D, READ_TICKS_D, ".4f", READ_COLORS, False, "bottom", "readout_err", 8)
scat_e = scatter_panel(vals_e, inc_e, "Effective error rate\u00a0 (129/156)", ("e)", -77, 1))
hist_f = hist_panel(F_INC, F_EXC, 45.15, [0, 10, 20, 30, 40], "Two-qubit gate error [128/176]", 268, ("f)", -76, -17))

left = alt.vconcat(graph_a, spacer(75), gate_a, spacer(28), read_a, spacer(92),
                   graph_d, spacer(75), gate_d, spacer(28), read_d,
                   spacing=0, bounds="flush").resolve_scale(**INDEP).resolve_legend(**INDEP)
right = alt.vconcat(scat_b, spacer(97), hist_c, spacer(152), scat_e, spacer(93), hist_f,
                    spacing=0, bounds="flush").resolve_scale(**INDEP).resolve_legend(**INDEP)

chart = alt.hconcat(left, right, spacing=6).resolve_scale(**INDEP).resolve_legend(**INDEP).properties(
    padding={"left": 0, "top": 0, "right": 5, "bottom": 5},
    background="white",
).configure_view(stroke=None)

chart.save("out.html", embed_options={"renderer": "svg", "actions": False})
